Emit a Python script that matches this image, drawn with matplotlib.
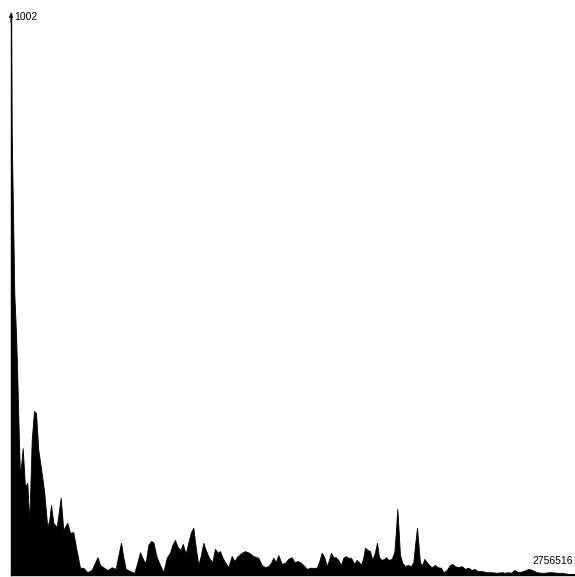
import numpy as np
import matplotlib.pyplot as plt

plt.rcParams['font.family'] = ['Liberation Sans', 'DejaVu Sans']

# position along the sequence (thousands) and count at that position
pos_k = [0, 3.4, 11.2, 16.1, 24.4, 30.8, 35.7, 44.0, 57.2, 68.4, 79.7, 89.4,
         101.2, 112.4, 122.2, 133.4, 150.0, 162.8, 177.4, 187.2, 195.5, 206.7,
         223.4, 242.9, 255.6, 275.2, 288.4, 304.5, 317.7, 337.2, 353.4, 372.9,
         394.4, 410.5, 422.8, 435.0, 449.6, 472.6, 492.2, 511.7, 523.0, 537.6,
         548.9, 560.6, 581.6, 602.6, 614.4, 630.5, 646.6, 658.3, 671.0, 684.2,
         695.5, 712.1, 728.2, 744.3, 761.0, 777.1, 788.4, 801.5, 814.7, 829.4,
         839.2, 853.8, 866.5, 879.7, 891.0, 902.7, 915.4, 928.6, 939.9, 951.6,
         967.7, 983.8, 997.0, 1010.2, 1021.5, 1032.7, 1045.9, 1062.0, 1078.6,
         1091.3, 1107.9, 1127.5, 1143.6, 1163.2, 1184.2, 1208.6, 1225.3, 1241.4,
         1257.5, 1270.7, 1282.0, 1293.7, 1306.4, 1323.0, 1339.1, 1355.3, 1371.9,
         1384.6, 1401.2, 1417.3, 1433.5, 1445.2, 1461.3, 1494.1, 1505.3, 1518.5,
         1531.2, 1542.9, 1554.2, 1564.0, 1575.2, 1587.0, 1599.7, 1612.8, 1624.1,
         1635.8, 1648.5, 1661.7, 1677.8, 1689.6, 1700.8, 1710.6, 1721.8, 1730.1,
         1743.3, 1754.6, 1765.8, 1779.0, 1788.8, 1798.6, 1811.8, 1824.5, 1834.3,
         1844.0, 1860.7, 1873.4, 1881.6, 1888.0, 1894.8, 1901.2, 1912.4, 1925.6,
         1938.8, 1955.0, 1966.2, 1976.0, 1984.3, 1990.6, 1998.9, 2010.2, 2020.0,
         2031.7, 2042.9, 2056.1, 2072.3, 2085.5, 2101.6, 2112.8, 2129.5, 2145.6,
         2156.8, 2168.5, 2186.2, 2202.8, 2218.9, 2235.0, 2251.6, 2264.4, 2281.0,
         2300.5, 2325.0, 2349.4, 2373.8, 2398.3, 2414.4, 2430.5, 2443.7, 2459.9,
         2479.4, 2503.8, 2528.3, 2547.8, 2569.3, 2590.3, 2609.9, 2626.0, 2642.6,
         2667.1, 2691.5, 2723.8, 2756.5]
counts = [1002, 795, 621, 507, 435, 356, 284, 176, 228, 158, 166, 94,
          243, 295, 291, 225, 183, 148, 86, 99, 126, 94,
          86, 139, 81, 94, 76, 77, 50, 13, 13, 5,
          9, 22, 32, 18, 14, 9, 14, 11, 32, 58,
          32, 11, 7, 4, 18, 41, 27, 22, 54, 61,
          59, 32, 18, 5, 31, 40, 54, 63, 50, 45,
          56, 38, 58, 77, 85, 50, 18, 36, 58, 45,
          31, 23, 47, 40, 43, 32, 23, 14, 34,
          25, 34, 40, 43, 40, 34, 31, 18, 14,
          16, 22, 31, 23, 36, 20, 22, 29, 32,
          23, 25, 22, 16, 11, 13, 13, 23, 40,
          32, 16, 27, 40, 32, 32, 27, 18, 31,
          34, 31, 31, 20, 27, 23, 18, 31, 49,
          45, 43, 27, 41, 58, 32, 27, 29, 32,
          27, 29, 41, 81, 119, 77, 36, 22, 16,
          18, 16, 23, 58, 85, 58, 22, 18, 29,
          23, 18, 14, 18, 14, 13, 5, 9, 18,
          20, 16, 14, 16, 11, 13, 9, 11, 7,
          7, 5, 5, 4, 5, 4, 5, 4, 9,
          5, 7, 11, 9, 5, 4, 4, 5, 5,
          4, 4, 2, 2]

y_max_label = '1002'
x_max_label = '2756516'

fig = plt.figure(figsize=(5.75, 5.77), dpi=100)
ax = fig.add_axes([11 / 575, 2 / 577, 564 / 575, 562 / 577])

ax.fill_between(pos_k, counts, 0, color='black', linewidth=0.6, edgecolor='black')

ax.set_xlim(0, 2756.516)
ax.set_ylim(0, 1011)
ax.set_xticks([])
ax.set_yticks([])
for side in ['top', 'right']:
    ax.spines[side].set_visible(False)
ax.spines['left'].set_linewidth(1)
ax.spines['bottom'].set_linewidth(1)

# small arrow head on the top of the vertical axis
ax.annotate('', xy=(0, 1011), xytext=(0, 995),
            arrowprops=dict(arrowstyle='->', lw=0.8, color='black',
                            mutation_scale=6, shrinkA=0, shrinkB=0),
            annotation_clip=False)

fig.text(14 / 575, 1 - 19.5 / 577, y_max_label, fontsize=7.5, ha='left', va='baseline')
fig.text(532 / 575, 1 - 564.5 / 577, x_max_label, fontsize=7.5, ha='left', va='baseline')

plt.savefig('out.png', dpi=100)
